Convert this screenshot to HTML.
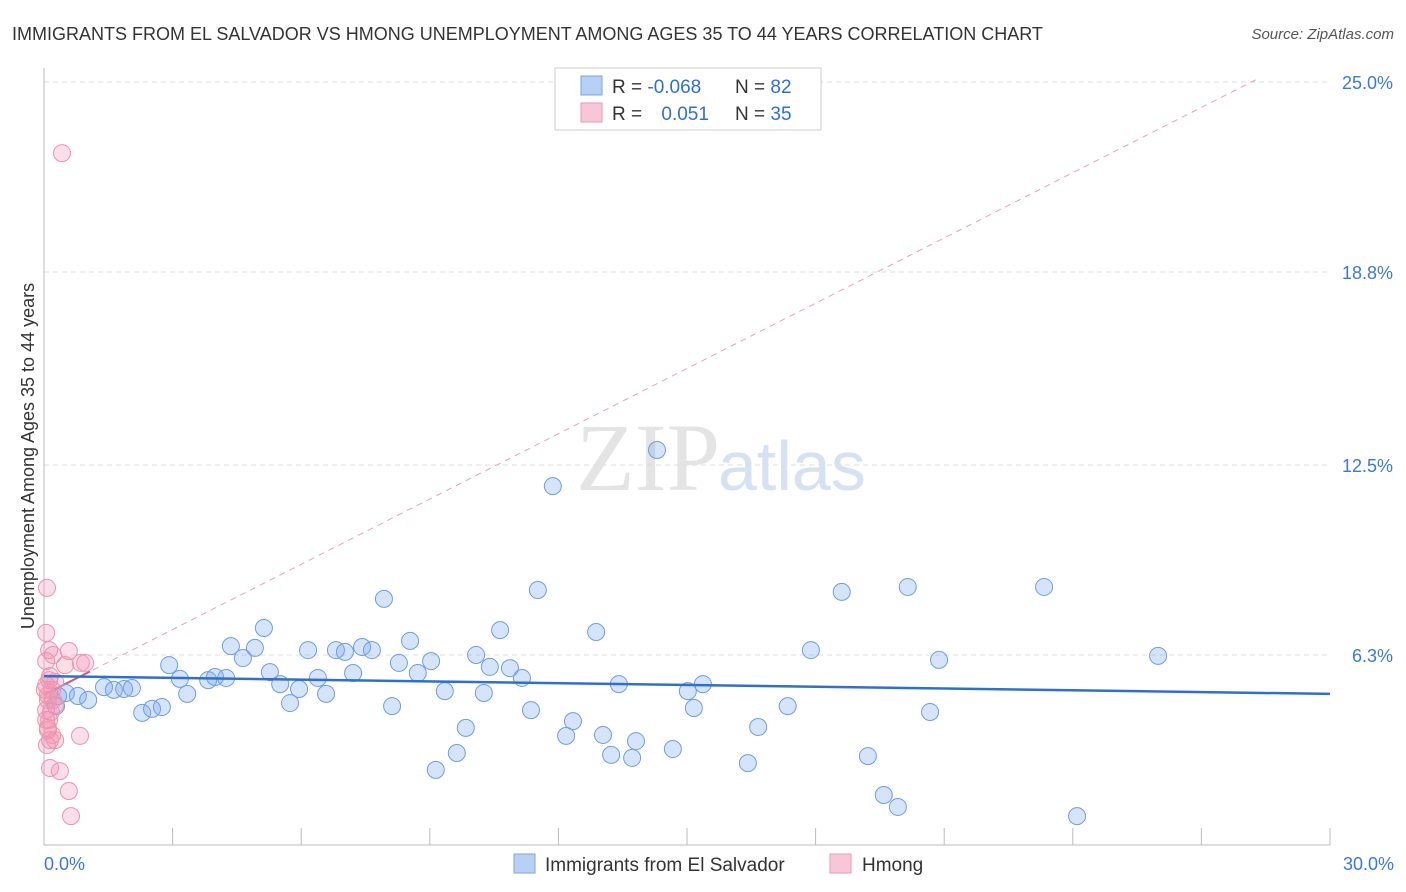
<!DOCTYPE html>
<html><head><meta charset="utf-8"><style>
body{margin:0;background:#fff;font-family:"Liberation Sans",sans-serif;}
svg{display:block}
</style></head><body>
<svg width="1406" height="892" id="chart">
<text x="12" y="40" font-size="18" fill="#333">IMMIGRANTS FROM EL SALVADOR VS HMONG UNEMPLOYMENT AMONG AGES 35 TO 44 YEARS CORRELATION CHART</text>
<text x="1394" y="39" font-size="15" fill="#555" font-style="italic" text-anchor="end">Source: ZipAtlas.com</text>
<text x="720" y="490" font-size="96" fill="#e4e4e4" font-family="Liberation Serif,serif" text-anchor="end">ZIP</text>
<text x="718" y="490" font-size="70" fill="#d6e2f4">atlas</text>
<text transform="translate(34,456) rotate(-90)" font-size="18" fill="#333" text-anchor="middle">Unemployment Among Ages 35 to 44 years</text>
<g id="grid"></g><g id="axes"></g><g id="trends"></g><g id="pts"></g>
<g>
<rect x="555" y="68" width="266" height="62" fill="#fff" stroke="#ccc"/>
<rect x="581" y="76" width="21" height="19" fill="#b8d0f3" stroke="#7aa4e0"/>
<rect x="581" y="103" width="21" height="19" fill="#f8c6d6" stroke="#e899b2"/>
<text x="612" y="93" font-size="19" fill="#333">R = <tspan fill="#2f6fd0">-0.068</tspan></text>
<text x="735" y="93" font-size="19" fill="#333">N = <tspan fill="#2f6fd0">82</tspan></text>
<text x="612" y="120" font-size="19" fill="#333">R = <tspan fill="#2f6fd0" dx="14">0.051</tspan></text>
<text x="735" y="120" font-size="19" fill="#333">N = <tspan fill="#2f6fd0">35</tspan></text>
</g>
<g>
<rect x="514" y="854" width="21" height="19" fill="#b8d0f3" stroke="#7aa4e0"/>
<text x="545" y="871" font-size="19" fill="#333">Immigrants from El Salvador</text>
<rect x="830" y="854" width="21" height="19" fill="#f8c6d6" stroke="#e899b2"/>
<text x="862" y="871" font-size="19" fill="#333">Hmong</text>
</g>
</svg>
<script>
const yTicks=[25.0,18.8,12.5,6.3];
const yTickLabels=["25.0%","18.8%","12.5%","6.3%"];
const xTickVals=[0,3,6,9,12,15,18,21,24,27,30];
const blueX=[14.30,11.87,7.93,11.52,18.61,20.15,23.33,5.13,10.64,12.88,8.54,4.36,4.92,6.81,7.42,7.65,7.02,6.16,17.89,25.99,20.88,10.08,9.03,8.28,10.40,10.87,2.92,4.64,5.27,7.21,8.72,11.15,3.17,3.83,3.99,4.25,5.51,5.95,6.39,13.41,15.37,15.02,10.26,9.35,6.58,3.34,1.40,1.63,1.87,2.05,0.51,0.79,1.03,0.33,0.28,5.74,8.12,11.36,15.16,17.35,20.67,2.29,2.52,2.75,12.34,9.84,16.66,12.18,13.04,13.81,14.67,9.63,13.23,13.72,19.22,16.42,9.14,19.59,19.92,24.10];
const blueY=[12.99,11.81,8.13,8.42,8.36,8.52,8.52,7.18,7.11,7.05,6.76,6.59,6.53,6.46,6.56,6.46,6.40,6.46,6.46,6.27,6.14,6.30,6.10,6.04,5.91,5.87,5.97,6.20,5.74,5.71,5.71,5.55,5.52,5.48,5.58,5.55,5.35,5.19,5.55,5.35,5.35,5.12,5.06,5.12,5.03,5.03,5.25,5.16,5.19,5.22,5.06,4.96,4.83,4.96,4.63,4.73,4.63,4.50,4.57,4.63,4.44,4.41,4.54,4.60,4.14,3.92,3.95,3.66,3.69,3.49,3.23,3.10,3.04,2.94,3.00,2.77,2.55,1.73,1.34,1.04];
const pinkX=[0.42,0.07,0.05,0.12,0.21,0.58,0.05,0.49,0.86,0.96,0.12,0.26,0.19,0.09,0.05,0.12,0.09,0.19,0.26,0.84,0.14,0.37,0.58,0.63,0.05,0.09,0.21,0.07,0.14,0.09,0.05,0.16,0.26,0.02,0.14];
const pinkY=[22.68,8.49,7.02,6.46,6.30,6.43,6.10,5.97,6.04,6.04,5.48,5.42,5.16,4.83,4.50,4.18,3.92,3.69,3.52,3.66,2.61,2.51,1.86,1.04,5.32,4.99,4.83,3.36,3.52,3.85,4.18,4.44,4.67,5.16,5.61];
const blueTrend=[5.61,5.03];
const pinkTrend=[5.0,0.71];
const X0=44,X1=1330,Y0=848,PY=30.64;
const sx=v=>X0+(X1-X0)*v/30, sy=v=>Y0-v*PY;
const NS="http://www.w3.org/2000/svg";
function mk(p,t,a){const e=document.createElementNS(NS,t);for(const k in a)e.setAttribute(k,a[k]);document.getElementById(p).appendChild(e);return e;}
yTicks.forEach((v,i)=>{
 const l=mk('grid','line',{x1:X0,x2:X1,y1:sy(v),y2:sy(v),stroke:'#ddd','stroke-dasharray':'5,4'});
 
 
 const t=mk('grid','text',{x:1393,y:sy(v)+7,'font-size':18,fill:'#3b78d8','text-anchor':'end'});
 t.textContent=yTickLabels[i];
 
 
});
const ax=mk('axes','line',{x1:X0,x2:X0,y1:68,y2:845,stroke:'#bbb'});


const bx=mk('axes','line',{x1:X0,x2:X1,y1:845,y2:845,stroke:'#bbb'});


xTickVals.forEach(v=>{
 const t=mk('axes','line',{x1:sx(v),x2:sx(v),y1:828,y2:845,stroke:'#bbb'});
 
 
});
const xl=mk('axes','text',{x:44,y:870,'font-size':18,fill:'#3b78d8'});xl.textContent='0.0%';


const xr=mk('axes','text',{x:1394,y:870,'font-size':18,fill:'#3b78d8','text-anchor':'end'});xr.textContent='30.0%';


const pe=(25.07-pinkTrend[0])/pinkTrend[1];
const pd=mk('trends','line',{x1:sx(0),y1:sy(pinkTrend[0]),x2:sx(pe),y2:sy(pinkTrend[0]+pinkTrend[1]*pe),stroke:'#eaa0b8','stroke-dasharray':'6,5','stroke-width':1});


const ps=mk('trends','line',{x1:sx(0),y1:sy(pinkTrend[0]),x2:sx(1.07),y2:sy(pinkTrend[0]+pinkTrend[1]*1.07),stroke:'#e0507f','stroke-width':2});


blueX.forEach((x,i)=>{
 const c=mk('pts','circle',{cx:sx(x),cy:sy(blueY[i]),r:8.5,fill:'rgba(120,165,235,0.3)',stroke:'#6d9de3','stroke-width':1});
 
 
});
pinkX.forEach((x,i)=>{
 const c=mk('pts','circle',{cx:sx(x),cy:sy(pinkY[i]),r:8.5,fill:'rgba(242,150,180,0.3)',stroke:'#ec93ae','stroke-width':1});
 
 
});
const bt=mk('pts','line',{x1:sx(0),y1:sy(blueTrend[0]),x2:sx(30),y2:sy(blueTrend[1]),stroke:'#2f6fd0','stroke-width':2.5});


</script>
</body></html>
